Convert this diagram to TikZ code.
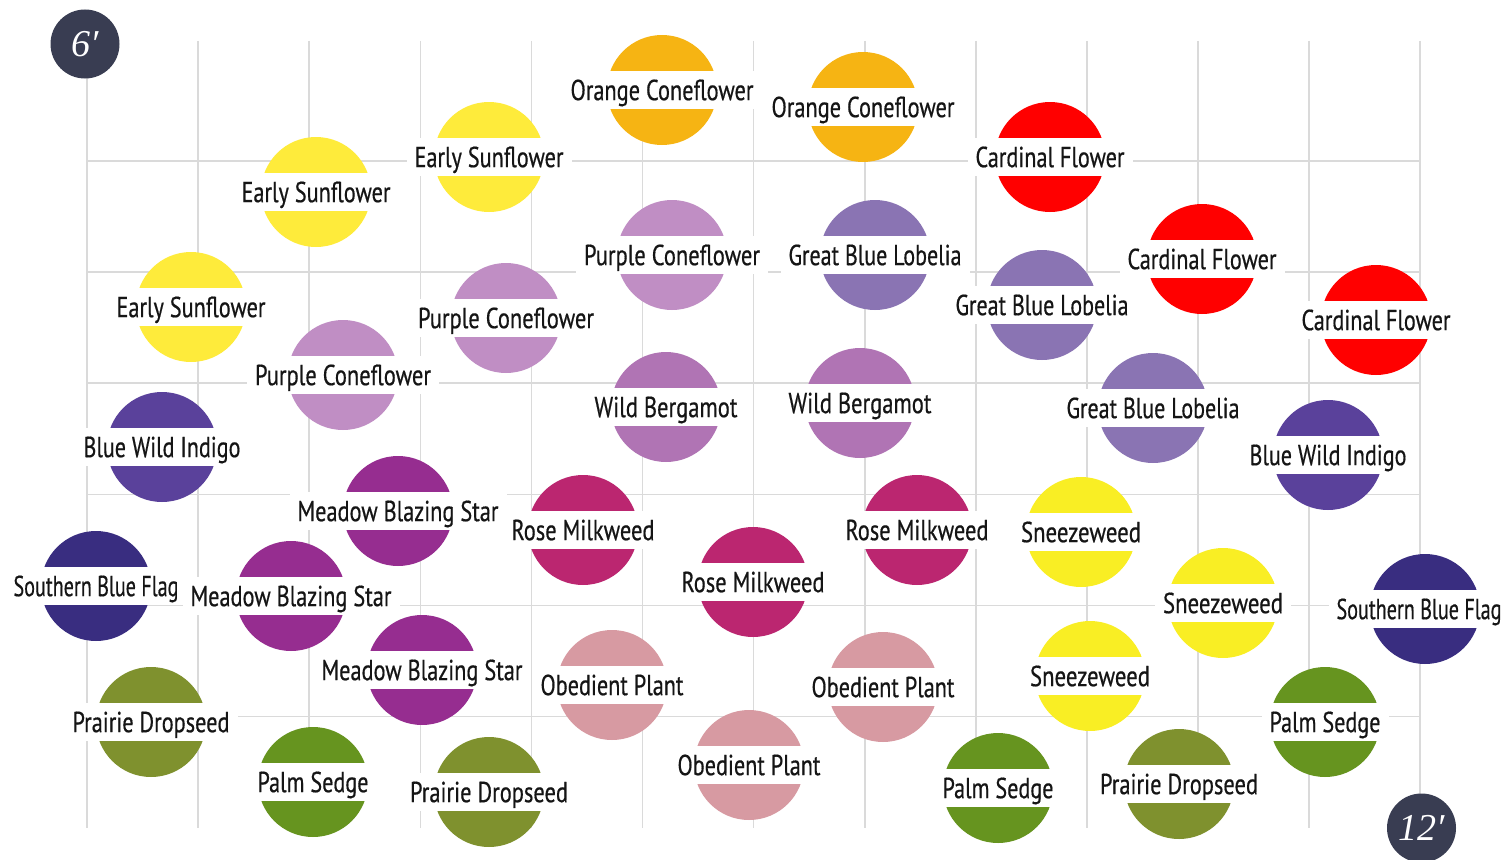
\documentclass[tikz,border=0pt]{standalone}
\usepackage{fontspec}
\setmainfont{PT Sans}[FakeStretch=0.8, FakeBold=0.5]
\newfontfamily\cornerfont{Liberation Serif}
\definecolor{gridc}{HTML}{DADADA}
\definecolor{cornerc}{HTML}{393D52}
\definecolor{txt}{HTML}{151515}
\definecolor{orangeC}{HTML}{F6B413}
\definecolor{sunC}{HTML}{FEEB3B}
\definecolor{sneezeC}{HTML}{F9EE24}
\definecolor{cardC}{HTML}{FF0000}
\definecolor{pconeC}{HTML}{C08EC4}
\definecolor{lobeliaC}{HTML}{8A74B3}
\definecolor{bergC}{HTML}{B074B4}
\definecolor{indigoC}{HTML}{5A419B}
\definecolor{blazeC}{HTML}{962D90}
\definecolor{roseC}{HTML}{BB2670}
\definecolor{flagC}{HTML}{392D80}
\definecolor{obedC}{HTML}{D79AA2}
\definecolor{dropC}{HTML}{7F912E}
\definecolor{sedgeC}{HTML}{66941F}
\tikzset{
  gridline/.style={draw=gridc, line width=1.6pt},
  disc/.style={circle, fill=#1, minimum size=110pt, inner sep=0pt, draw=none},
  band/.style={fill=white, text=txt, inner xsep=8pt, inner ysep=9pt,
    text height=20.3pt, text depth=0pt,
    font=\fontsize{29}{29}\selectfont},
  corner/.style={circle, fill=cornerc, minimum size=69pt, inner sep=0pt,
    text=white, font=\cornerfont\itshape\fontsize{38}{38}\selectfont}
}
\newcommand\flower[6]{%
  \node[disc=#4] (c#1) at (#2,#3) {};
  \node[band] (t#1) at (#2,#3) {\resizebox{#5pt}{\height}{#6}};
}
\begin{document}
\begin{tikzpicture}[x=1pt,y=-1pt]
\useasboundingbox (0,0) rectangle (1506,859);
% grid
\foreach \i in {0,...,12} {
  \coordinate (vt\i) at ({87+111.1*\i},41);
  \coordinate (vb\i) at ({87+111.1*\i},828);
  \draw[gridline] (vt\i) -- (vb\i);
}
\foreach \j in {1,...,6} {
  \coordinate (hl\j) at (87,{161+111.1*(\j-1)});
  \coordinate (hr\j) at (1420,{161+111.1*(\j-1)});
  \draw[gridline] (hl\j) -- (hr\j);
}
% flowers
\flower{1}{662}{90}{orangeC}{183}{Orange Coneflower}
\flower{2}{863}{107}{orangeC}{183}{Orange Coneflower}
\flower{3}{489}{157}{sunC}{149}{Early Sunflower}
\flower{4}{316}{192}{sunC}{149}{Early Sunflower}
\flower{5}{191}{307}{sunC}{149}{Early Sunflower}
\flower{6}{1050}{157}{cardC}{149}{Cardinal Flower}
\flower{7}{1202}{259}{cardC}{149}{Cardinal Flower}
\flower{8}{1376}{320}{cardC}{149}{Cardinal Flower}
\flower{9}{672}{255}{pconeC}{176}{Purple Coneflower}
\flower{10}{506}{318}{pconeC}{176}{Purple Coneflower}
\flower{11}{343}{375}{pconeC}{176}{Purple Coneflower}
\flower{12}{875}{255}{lobeliaC}{173}{Great Blue Lobelia}
\flower{13}{1042}{305}{lobeliaC}{173}{Great Blue Lobelia}
\flower{14}{1153}{408}{lobeliaC}{173}{Great Blue Lobelia}
\flower{15}{666}{407}{bergC}{143}{Wild Bergamot}
\flower{16}{860}{403}{bergC}{143}{Wild Bergamot}
\flower{17}{162}{447}{indigoC}{157}{Blue Wild Indigo}
\flower{18}{1328}{455}{indigoC}{157}{Blue Wild Indigo}
\flower{19}{398}{511}{blazeC}{201}{Meadow Blazing Star}
\flower{20}{291}{596}{blazeC}{201}{Meadow Blazing Star}
\flower{21}{422}{670}{blazeC}{201}{Meadow Blazing Star}
\flower{22}{583}{530}{roseC}{143}{Rose Milkweed}
\flower{23}{917}{530}{roseC}{143}{Rose Milkweed}
\flower{24}{753}{582}{roseC}{143}{Rose Milkweed}
\flower{25}{1081}{532}{sneezeC}{120}{Sneezeweed}
\flower{26}{1223}{603}{sneezeC}{120}{Sneezeweed}
\flower{27}{1090}{676}{sneezeC}{120}{Sneezeweed}
\flower{28}{96}{586}{flagC}{165}{Southern Blue Flag}
\node[disc=flagC] (c29) at (1425,609) {};
\node[band] (t29) at (1419,609) {\resizebox{165pt}{\height}{Southern Blue Flag}};
\flower{30}{612}{685}{obedC}{143}{Obedient Plant}
\flower{31}{883}{687}{obedC}{143}{Obedient Plant}
\flower{32}{749}{765}{obedC}{143}{Obedient Plant}
\flower{33}{151}{722}{dropC}{157}{Prairie Dropseed}
\flower{34}{489}{792}{dropC}{158}{Prairie Dropseed}
\flower{35}{1179}{784}{dropC}{158}{Prairie Dropseed}
\flower{36}{313}{782}{sedgeC}{111}{Palm Sedge}
\flower{37}{998}{788}{sedgeC}{111}{Palm Sedge}
\flower{38}{1325}{722}{sedgeC}{111}{Palm Sedge}
% corner markers
\node[corner] (six) at (85,44) {6′};
\node[corner] (twelve) at (1421.5,828) {12′};
\end{tikzpicture}
\end{document}
